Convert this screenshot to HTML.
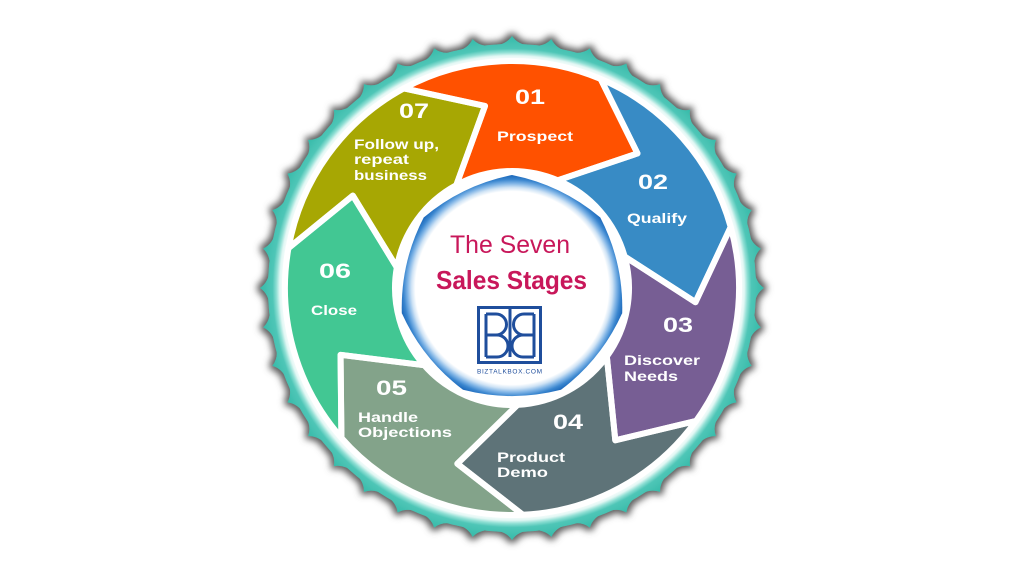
<!DOCTYPE html>
<html><head><meta charset="utf-8"><style>
html,body{margin:0;padding:0;background:#fff;width:1024px;height:576px;overflow:hidden}
svg{display:block}
.n{font-family:"Liberation Sans",sans-serif;font-weight:bold;font-size:21px;fill:#fff}
.l{font-family:"Liberation Sans",sans-serif;font-weight:bold;font-size:14px;fill:#fff}
</style></head><body>
<svg width="1024" height="576" viewBox="0 0 1024 576" xmlns="http://www.w3.org/2000/svg">
<defs>
<radialGradient id="tg" gradientUnits="userSpaceOnUse" cx="512" cy="288" r="252">
<stop offset="0.905" stop-color="#ffffff"/>
<stop offset="0.922" stop-color="#e2f7f4"/>
<stop offset="0.935" stop-color="#8fdfd4"/>
<stop offset="0.95" stop-color="#4fc6b7"/>
<stop offset="1" stop-color="#36baa9"/>
</radialGradient>
<radialGradient id="bg" gradientUnits="userSpaceOnUse" cx="512" cy="288" r="113">
<stop offset="0.855" stop-color="#ffffff"/>
<stop offset="0.89" stop-color="#cfe3f5"/>
<stop offset="0.925" stop-color="#7fb4e6"/>
<stop offset="0.96" stop-color="#3a86cf"/>
<stop offset="1" stop-color="#1a66b9"/>
</radialGradient>
<filter id="sh" x="-6%" y="-6%" width="112%" height="112%">
<feMorphology in="SourceAlpha" operator="dilate" radius="3" result="d"/>
<feGaussianBlur in="d" stdDeviation="3.5" result="b"/>
<feFlood flood-color="#5e5e5e"/>
<feComposite in2="b" operator="in" result="s"/>
<feMerge><feMergeNode in="s"/><feMergeNode in="SourceGraphic"/></feMerge>
</filter>
<path id="t" d="M492.93,45.75 Q506,45 512,36 Q518,45 531.07,45.75 L512,288 Z"/>
<g id="t2"><use href="#t"/><use href="#t" transform="rotate(9 512 288)"/></g>
<g id="t10">
<use href="#t2"/>
<use href="#t2" transform="rotate(18 512 288)"/>
<use href="#t2" transform="rotate(36 512 288)"/>
<use href="#t2" transform="rotate(54 512 288)"/>
<use href="#t2" transform="rotate(72 512 288)"/>
</g>
<path id="sg" d="M403.9,88.4 A227,227 0 0 1 600.7,79.0 L637.5,153.4 L557.7,180.3 A117,117 0 0 0 456.3,185.1 L485.0,106.0 Z"/>
</defs>

<g filter="url(#sh)" fill="url(#tg)">
<circle cx="512" cy="288" r="244"/>
<use href="#t10"/>
<use href="#t10" transform="rotate(90 512 288)"/>
<use href="#t10" transform="rotate(180 512 288)"/>
<use href="#t10" transform="rotate(270 512 288)"/>
</g>
<circle cx="512" cy="288" r="228" fill="#fff"/>

<g>
<use href="#sg" fill="#ff5100"/>
<use href="#sg" fill="#388bc5" transform="rotate(51.4286 512 288)"/>
<use href="#sg" fill="#775e94" transform="rotate(102.8571 512 288)"/>
<use href="#sg" fill="#5e7378" transform="rotate(154.2857 512 288)"/>
<use href="#sg" fill="#83a38a" transform="rotate(205.7143 512 288)"/>
<use href="#sg" fill="#42c793" transform="rotate(257.1429 512 288)"/>
<use href="#sg" fill="#a7a703" transform="rotate(308.5714 512 288)"/>
</g>
<g fill="none" stroke="#fff" stroke-width="6" stroke-linejoin="round">
<use href="#sg"/>
<use href="#sg" transform="rotate(51.4286 512 288)"/>
<use href="#sg" transform="rotate(102.8571 512 288)"/>
<use href="#sg" transform="rotate(154.2857 512 288)"/>
<use href="#sg" transform="rotate(205.7143 512 288)"/>
<use href="#sg" transform="rotate(257.1429 512 288)"/>
<use href="#sg" transform="rotate(308.5714 512 288)"/>
</g>

<path d="M512,175 A197,197 0 0 1 600.3,217.5 A197,197 0 0 1 622.2,313.1 A197,197 0 0 1 561,389.8 A197,197 0 0 1 463,389.8 A197,197 0 0 1 401.8,313.1 A197,197 0 0 1 423.7,217.5 A197,197 0 0 1 512,175 Z" fill="url(#bg)"/>

<text x="450" y="253" font-family="'Liberation Sans',sans-serif" font-size="25" fill="#c8175a" textLength="120" lengthAdjust="spacingAndGlyphs">The Seven</text>
<text x="436" y="289" font-family="'Liberation Sans',sans-serif" font-size="26" font-weight="bold" fill="#c8175a" textLength="151" lengthAdjust="spacingAndGlyphs">Sales Stages</text>

<g fill="none" stroke="#1f4e9c" stroke-width="3">
<rect x="478.5" y="307.5" width="62" height="55"/>
<path d="M486,314 V357 M486,314 H496 A10.5,10.5 0 0 1 496,335 H486 M486,335 H497 A11,11 0 0 1 497,357 H486"/>
<path d="M510,309 V357"/>
<path d="M534,314 V357 M534,314 H524 A10.5,10.5 0 0 0 524,335 H534 M534,335 H523 A11,11 0 0 0 523,357 H534"/>
</g>
<text x="477" y="373.5" font-family="'Liberation Sans',sans-serif" font-size="6.5" fill="#1f4e9c" textLength="65" lengthAdjust="spacing">BIZTALKBOX.COM</text>

<text class="n" x="515" y="104" textLength="30" lengthAdjust="spacingAndGlyphs">01</text>
<text class="l" x="497" y="141" textLength="76" lengthAdjust="spacingAndGlyphs">Prospect</text>
<text class="n" x="638" y="189" textLength="30" lengthAdjust="spacingAndGlyphs">02</text>
<text class="l" x="627" y="223" textLength="60" lengthAdjust="spacingAndGlyphs">Qualify</text>
<text class="n" x="663" y="332" textLength="30" lengthAdjust="spacingAndGlyphs">03</text>
<text class="l" x="624" y="365" textLength="76" lengthAdjust="spacingAndGlyphs">Discover</text>
<text class="l" x="624" y="381" textLength="54" lengthAdjust="spacingAndGlyphs">Needs</text>
<text class="n" x="553" y="429" textLength="30" lengthAdjust="spacingAndGlyphs">04</text>
<text class="l" x="497" y="462" textLength="68" lengthAdjust="spacingAndGlyphs">Product</text>
<text class="l" x="497" y="477" textLength="51" lengthAdjust="spacingAndGlyphs">Demo</text>
<text class="n" x="376" y="395" textLength="31" lengthAdjust="spacingAndGlyphs">05</text>
<text class="l" x="358" y="422" textLength="60" lengthAdjust="spacingAndGlyphs">Handle</text>
<text class="l" x="358" y="437" textLength="94" lengthAdjust="spacingAndGlyphs">Objections</text>
<text class="n" x="319" y="278" textLength="32" lengthAdjust="spacingAndGlyphs">06</text>
<text class="l" x="311" y="315" textLength="46" lengthAdjust="spacingAndGlyphs">Close</text>
<text class="n" x="399" y="118" textLength="30" lengthAdjust="spacingAndGlyphs">07</text>
<text class="l" x="354" y="149" textLength="85" lengthAdjust="spacingAndGlyphs">Follow up,</text>
<text class="l" x="354" y="164" textLength="55" lengthAdjust="spacingAndGlyphs">repeat</text>
<text class="l" x="354" y="180" textLength="73" lengthAdjust="spacingAndGlyphs">business</text>
</svg>
</body></html>
